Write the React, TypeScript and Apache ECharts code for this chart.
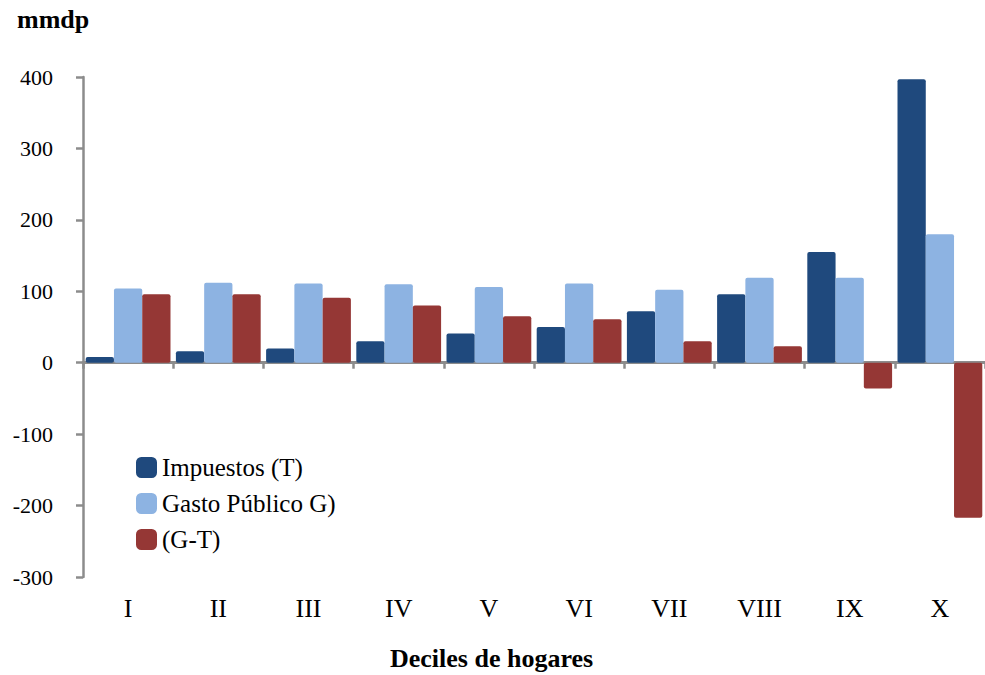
import React, { useEffect, useRef } from "react";
import * as echarts from "echarts";

const categories = ["I", "II", "III", "IV", "V", "VI", "VII", "VIII", "IX", "X"];
const impuestos = [8, 16, 20, 30, 41, 50, 72, 96, 155, 397];
const gasto = [104, 112, 111, 110, 106, 111, 102, 119, 119, 180];
const diferencia = [96, 96, 91, 80, 65, 61, 30, 23, -36, -217];
const seriesNames = ["Impuestos (T)", "Gasto Público G)", "(G-T)"];
const colors = ["#1F497D", "#8DB3E2", "#953735"];

const FONT = "Liberation Serif";

export default function App() {
  const ref = useRef<HTMLDivElement>(null);
  useEffect(() => {
    if (!ref.current) return;
    const chart = echarts.init(ref.current, undefined, { renderer: "svg" });
    const barStyle = (c: string) => ({
      color: c,
      borderRadius: 2,
    });
    chart.setOption({
      animation: false,
      backgroundColor: "#ffffff",
      textStyle: { fontFamily: FONT },
      grid: { left: 83, top: 77, width: 905, height: 500, containLabel: false },
      legend: {
        orient: "vertical",
        left: 131,
        top: 450,
        itemWidth: 21,
        itemHeight: 21,
        itemGap: 11,
        icon: "roundRect",
        textStyle: { fontFamily: FONT, fontSize: 25, color: "#000" },
        data: seriesNames,
      },
      xAxis: [
        {
          type: "category",
          data: categories,
          axisLine: { onZero: true, lineStyle: { color: "#8c8c8c", width: 3 } },
          axisTick: { show: true, length: 6, lineStyle: { color: "#8c8c8c", width: 2.5 } },
          axisLabel: { show: false },
          splitLine: { show: false },
        },
        {
          type: "category",
          data: categories,
          position: "bottom",
          axisLine: { show: false, onZero: false },
          axisTick: { show: false },
          axisLabel: { show: true, fontFamily: FONT, fontSize: 26, color: "#000", margin: 18 },
          splitLine: { show: false },
        },
      ],
      yAxis: {
        type: "value",
        min: -300,
        max: 400,
        interval: 100,
        axisLine: { show: true, lineStyle: { color: "#8c8c8c", width: 2.5 } },
        axisTick: { show: true, length: 7, lineStyle: { color: "#8c8c8c", width: 2.5 } },
        axisLabel: { fontFamily: FONT, fontSize: 22, color: "#000", margin: 30 },
        splitLine: { show: false },
      },
      graphic: [
        {
          type: "text",
          left: 17,
          top: 6,
          style: { text: "mmdp", font: `bold 26px ${FONT}`, fill: "#000" },
        },
        {
          type: "text",
          left: 390,
          top: 645,
          style: { text: "Deciles de hogares", font: `bold 26px ${FONT}`, fill: "#000" },
        },
      ],
      series: [
        {
          name: seriesNames[0],
          type: "bar",
          data: impuestos,
          barGap: "0%",
          barCategoryGap: "6%",
          itemStyle: barStyle(colors[0]),
        },
        {
          name: seriesNames[1],
          type: "bar",
          data: gasto,
          barGap: "0%",
          barCategoryGap: "6%",
          itemStyle: barStyle(colors[1]),
        },
        {
          name: seriesNames[2],
          type: "bar",
          data: diferencia,
          barGap: "0%",
          barCategoryGap: "6%",
          itemStyle: barStyle(colors[2]),
        },
      ],
    });
    return () => chart.dispose();
  }, []);
  return (
    <div
      ref={ref}
      style={{ position: "fixed", left: 0, top: 0, width: 985, height: 675 }}
    />
  );
}
